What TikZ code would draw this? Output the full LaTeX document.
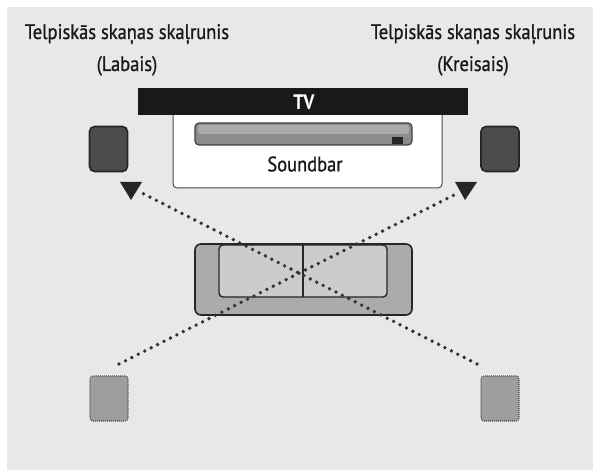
\documentclass[tikz,border=0pt]{standalone}
\usepackage{fontspec}
\setmainfont{PT Sans}[FakeStretch=0.88]
\newfontfamily\lblfont{PT Sans}[FakeStretch=0.88,FakeBold=0.9]
\begin{document}
\begin{tikzpicture}[x=1pt,y=-1pt,
  spk/.style={draw=black!85,line width=1.6pt,fill=black!70,rounded corners=5pt,minimum width=38pt,minimum height=45pt,inner sep=0pt},
  rear/.style={draw=black!70,line width=1.1pt,dash pattern=on 1pt off 1pt,fill=black!38,rounded corners=3pt,minimum width=38pt,minimum height=45pt,inner sep=0pt},
  dotline/.style={draw=black!80,line width=3.8pt,line cap=round,dash pattern=on 0pt off 7.2pt},
  lbl/.style={font=\lblfont\fontsize{21}{24}\selectfont,text=black!90,inner sep=0pt,anchor=base},
  tri/.style={fill=black!85}
]
\useasboundingbox (0,0) rectangle (601,470);
\fill[white] (0,0) rectangle (601,470);
\fill[black!9] (7,7) rectangle (593,470);

% labels
\node[lbl] (lt) at (127,39) {Telpiskās skaņas skaļrunis};
\node[lbl] (lb) at (127,71) {(Labais)};
\node[lbl] (rt) at (473,39) {Telpiskās skaņas skaļrunis};
\node[lbl] (rb) at (473,71) {(Kreisais)};

% soundbar box and TV
\draw[black!70,line width=1pt,fill=white,rounded corners=4pt] (173,110) -- (173,188) -- (442,188) -- (442,110);
\fill[black!90] (138,88) rectangle (468,115);
\node[font=\fontsize{21}{24}\selectfont\bfseries,text=white,inner sep=0pt] (tv) at (304,102) {TV};
% soundbar device
\draw[black!75,line width=1.2pt,fill=black!45,rounded corners=4pt] (195,123) rectangle (412,145);
\fill[black!33,rounded corners=3pt] (198,125) rectangle (409,134);
\fill[black!85] (392,137) rectangle (403,144);
\node[lbl,anchor=center] (sb) at (305,164) {Soundbar};

% front speakers
\node[spk] (fl) at (108.5,149) {};
\node[spk] (fr) at (500,149) {};

% sofa
\draw[black!85,line width=1.6pt,fill=black!33,rounded corners=6pt] (195,244) rectangle (412,315);
\draw[black!85,line width=1.4pt,fill=black!20,rounded corners=4pt] (219,245) rectangle (387,297);
\draw[black!85,line width=1.2pt] (303,245) -- (303,297);

% rear speakers
\node[rear] (rl) at (109,398.5) {};
\node[rear] (rr) at (500,398.5) {};

% dotted lines
\coordinate (al) at (142,193);
\coordinate (ar) at (458,193);
\coordinate (el) at (119,364);
\coordinate (er) at (477,364);
\path[dotline] (er) -- (al);
\path[dotline] (el) -- (ar);

% arrowheads
\fill[tri] (120,182) -- (142,182) -- (131,200) -- cycle;
\fill[tri] (455,182) -- (477,182) -- (465,200) -- cycle;
\end{tikzpicture}
\end{document}
